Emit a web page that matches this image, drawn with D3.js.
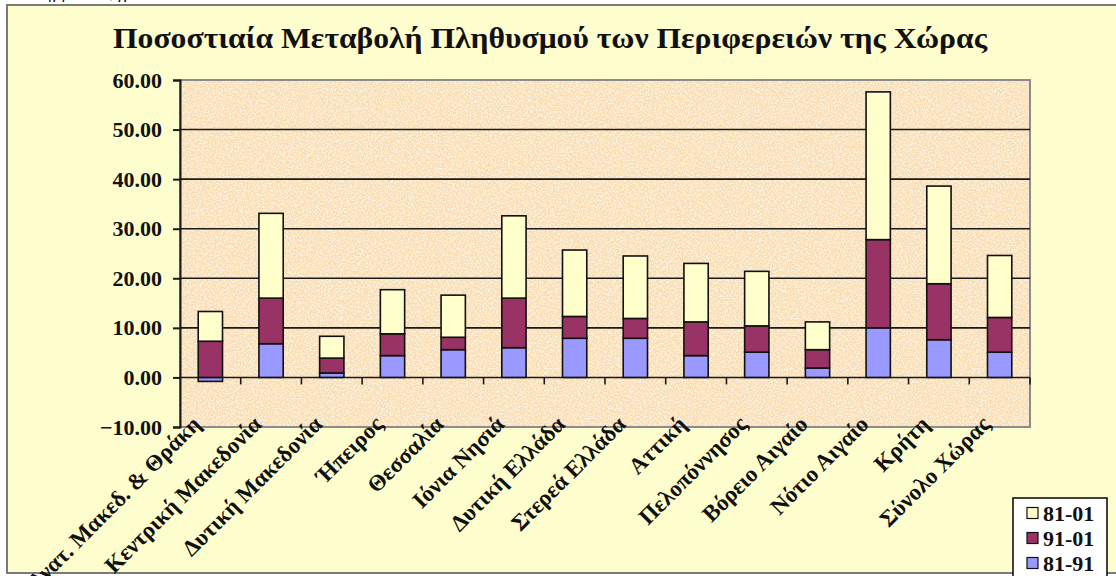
<!DOCTYPE html>
<html>
<head>
<meta charset="utf-8">
<script src="https://cdn.jsdelivr.net/npm/d3@7"></script>
<style>
  html, body { margin: 0; padding: 0; background: #fff; overflow: hidden; }
  svg { display: block; font-family: "Liberation Serif", "DejaVu Serif", serif; }
</style>
</head>
<body>
<div id="chart"></div>
<script>
// regions, bottom to top: 81-91, 91-01, 81-01
const categories = ["Ανατ. Μακεδ. & Θράκη", "Κεντρική Μακεδονία", "Δυτική Μακεδονία", "Ήπειρος",
  "Θεσσαλία", "Ιόνια Νησιά", "Δυτική Ελλάδα", "Στερεά Ελλάδα", "Αττική", "Πελοπόννησος",
  "Βόρειο Αιγαίο", "Νότιο Αιγαίο", "Κρήτη", "Σύνολο Χώρας"];
const seriesKeys = ["81-91", "91-01", "81-01"];
const vals8191 = [-0.8, 6.8, 0.9, 4.4, 5.6, 6.0, 7.9, 7.9, 4.4, 5.1, 1.9, 10.0, 7.6, 5.1];
const vals9101 = [7.3, 9.2, 3.0, 4.4, 2.5, 10.0, 4.4, 4.0, 6.8, 5.3, 3.7, 17.8, 11.3, 7.0];
const vals8101 = [6.0, 17.1, 4.4, 8.9, 8.5, 16.6, 13.4, 12.6, 11.8, 11.0, 5.6, 29.8, 19.7, 12.5];
const yTicks = [-10, 0, 10, 20, 30, 40, 50, 60];
const legendOrder = ["81-01", "91-01", "81-91"];
const title = "Ποσοστιαία Μεταβολή Πληθυσμού των Περιφερειών της Χώρας";

const cfg = {
  W: 1116, H: 576,
  plot: {left: 180, right: 1030, top: 80, bottom: 427},
  color: {"81-01": "#FFFFCC", "91-01": "#993366", "81-91": "#9999FF"},
  chartBg: "#FEFDCE",
  plotBg: "#F8DCB2"
};

const rows = categories.map((c, i) => ({
  cat: c, "81-91": vals8191[i], "91-01": vals9101[i], "81-01": vals8101[i]
}));

const svg = d3.select("#chart").append("svg")
  .attr("width", cfg.W).attr("height", cfg.H);

// paper texture for the plot area
const defs = svg.append("defs");
const f = defs.append("filter").attr("id", "paper")
  .attr("x", 0).attr("y", 0).attr("width", 1).attr("height", 1);
f.append("feTurbulence").attr("type", "fractalNoise")
  .attr("baseFrequency", 0.6).attr("numOctaves", 2).attr("seed", 7);
f.append("feColorMatrix").attr("type", "matrix")
  .attr("values", "0 0 0 0 1  0 0 0 0 0.96  0 0 0 0 0.86  3 0 0 0 -1.2");

// chart area frame
svg.append("rect")
  .attr("x", 7).attr("y", 5).attr("width", cfg.W + 20).attr("height", 568)
  .attr("fill", cfg.chartBg).attr("stroke", "#7a7a7a").attr("stroke-width", 2);

// cut off source line above the frame
svg.append("text")
  .attr("x", 34).attr("y", -1)
  .style("font-style", "italic").style("font-size", "15px")
  .text("Πηγή: ΕΣΥΕ, γγ");

svg.append("text")
  .attr("x", 550).attr("y", 48)
  .attr("text-anchor", "middle")
  .attr("textLength", 874).attr("lengthAdjust", "spacingAndGlyphs")
  .style("font-size", "29px").style("font-weight", "bold").style("fill", "#111")
  .text(title);

const p = cfg.plot;
const x = d3.scaleBand()
  .domain(categories)
  .range([p.left, p.right])
  .paddingInner(0.6).paddingOuter(0.3);

const y = d3.scaleLinear()
  .domain([yTicks[0], yTicks[yTicks.length - 1]])
  .range([p.bottom, p.top]);

// plot area
svg.append("rect")
  .attr("x", p.left).attr("y", p.top)
  .attr("width", p.right - p.left).attr("height", p.bottom - p.top)
  .attr("fill", cfg.plotBg);
svg.append("rect")
  .attr("x", p.left).attr("y", p.top)
  .attr("width", p.right - p.left).attr("height", p.bottom - p.top)
  .attr("filter", "url(#paper)").attr("opacity", 0.9);
svg.append("rect")
  .attr("x", p.left).attr("y", p.top)
  .attr("width", p.right - p.left).attr("height", p.bottom - p.top)
  .attr("fill", "none").attr("stroke", "#8c8c8c").attr("stroke-width", 2);

// gridlines
svg.append("g")
  .selectAll("line")
  .data(yTicks.filter(t => t >= 0 && t < 60))
  .enter().append("line")
    .attr("x1", p.left).attr("x2", p.right)
    .attr("y1", d => y(d)).attr("y2", d => y(d))
    .attr("stroke", "#1a1a1a").attr("stroke-width", 1.6);

// y axis
const yAxis = svg.append("g")
  .attr("transform", "translate(" + p.left + ",0)")
  .call(d3.axisLeft(y).tickValues(yTicks).tickSize(7).tickPadding(11)
    .tickFormat(d3.format(".2f")));
yAxis.select(".domain").attr("stroke", "#1a1a1a").attr("stroke-width", 2);
yAxis.selectAll(".tick line").attr("stroke", "#1a1a1a").attr("stroke-width", 2);
yAxis.selectAll(".tick text")
  .style("font-family", "Liberation Serif, serif")
  .style("font-size", "22px").style("font-weight", "bold").style("fill", "#111");

// category ticks on the zero line
const gap = (x.step() - x.bandwidth()) / 2;
svg.append("g")
  .selectAll("line")
  .data(categories)
  .enter().append("line")
    .attr("x1", d => x(d) + x.bandwidth() + gap)
    .attr("x2", d => x(d) + x.bandwidth() + gap)
    .attr("y1", y(0)).attr("y2", y(0) + 7)
    .attr("stroke", "#1a1a1a").attr("stroke-width", 1.6);

// stacked bars
const stacked = d3.stack().keys(seriesKeys).offset(d3.stackOffsetDiverging)(rows);
svg.append("g")
  .selectAll("g")
  .data(stacked)
  .enter().append("g")
    .attr("fill", d => cfg.color[d.key])
  .selectAll("rect")
  .data(d => d)
  .enter().append("rect")
    .attr("x", d => x(d.data.cat))
    .attr("width", x.bandwidth())
    .attr("y", d => y(Math.max(d[0], d[1])))
    .attr("height", d => Math.abs(y(d[0]) - y(d[1])))
    .attr("stroke", "#111").attr("stroke-width", 1.6);

// rotated category labels
svg.append("g")
  .selectAll("text")
  .data(categories)
  .enter().append("text")
    .attr("transform", d => "translate(" + (x(d) + x.bandwidth() / 2 - 14) + "," + 420 + ") rotate(-45)")
    .attr("text-anchor", "end")
    .attr("dy", "0.35em")
    .style("font-size", "23px").style("font-weight", "bold").style("fill", "#111")
    .text(d => d);

// legend
const lg = svg.append("g").attr("transform", "translate(1013,498)");
lg.append("rect")
  .attr("width", 94).attr("height", 84)
  .attr("fill", "#fff").attr("stroke", "#111").attr("stroke-width", 1.6);
const item = lg.selectAll("g.item")
  .data(legendOrder)
  .enter().append("g")
    .attr("class", "item")
    .attr("transform", (d, i) => "translate(14," + (15 + i * 25) + ")");
item.append("rect")
  .attr("x", 0).attr("y", -5.5).attr("width", 11).attr("height", 11)
  .attr("fill", d => cfg.color[d]).attr("stroke", "#111").attr("stroke-width", 1.2);
item.append("text")
  .attr("x", 16).attr("dy", "0.35em")
  .style("font-size", "22px").style("font-weight", "bold").style("fill", "#111")
  .text(d => d);
</script>
</body>
</html>
